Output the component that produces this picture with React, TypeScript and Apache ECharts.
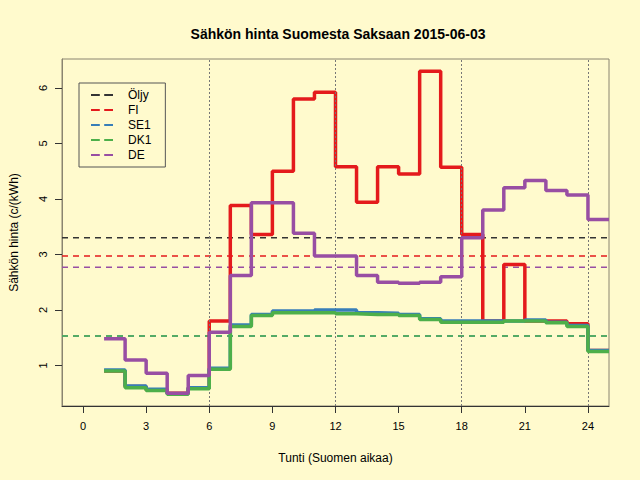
import React, { useEffect, useRef } from "react";
import * as echarts from "echarts";

const hours = [1, 2, 3, 4, 5, 6, 7, 8, 9, 10, 11, 12, 13, 14, 15, 16, 17, 18, 19, 20, 21, 22, 23, 24, 25];
const fi = [0.9, 0.62, 0.56, 0.5, 0.6, 1.8, 3.88, 3.36, 4.5, 5.8, 5.92, 4.58, 3.94, 4.58, 4.45, 6.3, 4.57, 3.36, 1.8, 2.82, 1.8, 1.8, 1.75, 1.27];
const se1 = [0.92, 0.63, 0.57, 0.49, 0.6, 0.95, 1.73, 1.92, 1.98, 1.98, 2.0, 2.0, 1.95, 1.94, 1.92, 1.84, 1.8, 1.8, 1.8, 1.8, 1.82, 1.78, 1.72, 1.27];
const dk1 = [0.9, 0.6, 0.55, 0.48, 0.58, 0.93, 1.7, 1.9, 1.95, 1.95, 1.95, 1.93, 1.92, 1.92, 1.9, 1.83, 1.78, 1.78, 1.78, 1.8, 1.8, 1.77, 1.7, 1.25];
const de = [1.48, 1.1, 0.86, 0.5, 0.82, 1.6, 2.62, 3.93, 3.93, 3.38, 2.97, 2.97, 2.62, 2.5, 2.48, 2.5, 2.6, 3.3, 3.8, 4.2, 4.33, 4.15, 4.07, 3.63];
const averages = [
  { name: "Öljy", value: 3.3, color: "#333333" },
  { name: "FI", value: 2.97, color: "#E41A1C" },
  { name: "SE1", value: 1.53, color: "#377EB8" },
  { name: "DK1", value: 1.53, color: "#4DAF4A" },
  { name: "DE", value: 2.77, color: "#984EA3" },
];
const xTicks = [0, 3, 6, 9, 12, 15, 18, 21, 24];
const yTicks = [1, 2, 3, 4, 5, 6];
const vLines = [6, 12, 18, 24];

const stepData = (vals: number[]) =>
  hours.map((h, i) => [h, vals[Math.min(i, vals.length - 1)]]);

const dashIcon = "path://M0,5L8,5L8,7L0,7ZM12,5L20,5L20,7L12,7Z";

const App: React.FC = () => {
  const ref = useRef<HTMLDivElement>(null);

  useEffect(() => {
    document.body.style.margin = "0";
    if (!ref.current) return;
    const chart = echarts.init(ref.current, undefined, { renderer: "svg" });
    const font = "Liberation Sans, Arial, sans-serif";

    const avgSeries = averages.map((a) => ({
      name: a.name,
      type: "line",
      symbol: "none",
      z: 3,
      lineStyle: { color: a.color, width: 1.5, type: [6, 5] },
      itemStyle: { color: a.color },
      data: [[-1, a.value], [25, a.value]],
    }));

    const steps = [
      { vals: fi, color: "#E41A1C" },
      { vals: se1, color: "#377EB8" },
      { vals: dk1, color: "#4DAF4A" },
      { vals: de, color: "#984EA3" },
    ].map((s, i) => ({
      name: "s" + i,
      type: "line",
      step: "end",
      symbol: "none",
      z: 4 + i,
      lineStyle: { color: s.color, width: 3.5 },
      data: stepData(s.vals),
    }));

    chart.setOption({
      animation: false,
      backgroundColor: "#FFFACD",
      textStyle: { fontFamily: font },
      title: {
        text: "Sähkön hinta Suomesta Saksaan 2015-06-03",
        left: 333,
        top: 22,
        textAlign: "center",
        textStyle: { fontSize: 14, fontWeight: "bold", color: "#000", fontFamily: font },
      },
      grid: { left: 58, right: 31, top: 59, bottom: 74, show: true, borderColor: "#8a8470", borderWidth: 1 },
      legend: {
        data: averages.map((a) => ({ name: a.name, icon: dashIcon })),
        orient: "vertical",
        left: 79,
        top: 83,
        itemGap: 3,
        itemWidth: 22,
        itemHeight: 12,
        padding: [6, 14, 6, 12],
        borderColor: "#555",
        borderWidth: 1,
        textStyle: { fontSize: 12, color: "#000", padding: [0, 0, 0, 10] },
      },
      xAxis: {
        type: "value",
        min: -1,
        max: 25,
        name: "Tunti (Suomen aikaa)",
        nameLocation: "middle",
        nameGap: 46,
        nameTextStyle: { fontSize: 12, color: "#000" },
        axisLine: { onZero: false, lineStyle: { color: "#333" } },
        axisTick: { customValues: xTicks, length: 7, lineStyle: { color: "#333" } },
        axisLabel: { customValues: xTicks, margin: 14, fontSize: 11, color: "#000" },
        splitLine: { show: false },
      },
      yAxis: {
        type: "value",
        min: 0.27,
        max: 6.52,
        name: "Sähkön hinta (c/(kWh)",
        nameLocation: "middle",
        nameGap: 42,
        nameTextStyle: { fontSize: 12, color: "#000" },
        axisLine: { show: true, onZero: false, lineStyle: { color: "#8a8470" } },
        axisTick: { customValues: yTicks, length: 7, lineStyle: { color: "#333" } },
        axisLabel: { customValues: yTicks, rotate: 90, margin: 14, fontSize: 11, color: "#000" },
        splitLine: { show: false },
      },
      series: [
        {
          name: "grid",
          type: "line",
          data: [],
          markLine: {
            silent: true,
            symbol: "none",
            label: { show: false },
            lineStyle: { color: "#777", type: [2, 2], width: 1 },
            data: vLines.map((v) => ({ xAxis: v })),
          },
        },
        ...avgSeries,
        ...steps,
      ],
    });

    return () => chart.dispose();
  }, []);

  return <div ref={ref} style={{ width: 640, height: 480 }} />;
};

export default App;
